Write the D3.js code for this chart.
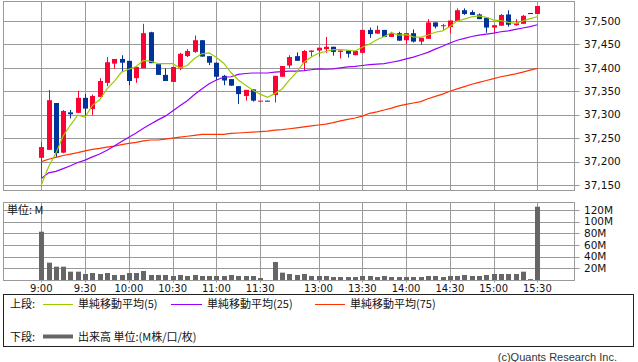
<!DOCTYPE html>
<html><head><meta charset="utf-8">
<script src="https://cdn.jsdelivr.net/npm/d3@7/dist/d3.min.js"></script>
<style>body{margin:0;background:#fff}svg{display:block}</style>
</head><body>
<svg id="c" width="638" height="362"></svg>
<script>
// ---- categories (5-minute bars) ----
const times = [];
(function(){
  const f = m => Math.floor(m/60) + ":" + String(m%60).padStart(2,"0");
  for (let m = 540; m <= 690; m += 5) times.push(f(m));
  times.push("12:25");
  for (let m = 750; m <= 930; m += 5) times.push(f(m));
})();

const opens  = [37208,37225,37325,37219,37305,37304,37336,37312,37338,37368,37409,37419,37415,37378,37399,37476,37408,37385,37370,37399,37425,37434,37459,37425,37411,37383,37376,37361,37340,37354,37329,37330,37342,37381,37405,37425,37411,37434,37437,37440,37445,37434,37437,37427,37432,37481,37473,37481,37466,37474,37459,37474,37456,37462,37497,37489,37487,37500,37523,37519,37514,37507,37486,37490,37514,37491,37494,37517,37515];
const highs  = [37242,37353,37325,37310,37310,37351,37344,37343,37378,37423,37419,37427,37415,37402,37494,37477,37408,37399,37402,37432,37440,37469,37459,37425,37411,37385,37376,37361,37353,37354,37330,37330,37383,37404,37427,37433,37438,37437,37443,37466,37445,37437,37437,37436,37481,37486,37490,37481,37477,37477,37474,37482,37464,37504,37497,37494,37501,37527,37527,37523,37516,37507,37491,37515,37523,37504,37513,37517,37532];
const lows   = [37165,37225,37210,37218,37292,37304,37294,37299,37338,37361,37398,37392,37363,37368,37399,37410,37385,37372,37370,37395,37423,37432,37424,37406,37374,37363,37362,37323,37330,37328,37329,37329,37326,37381,37400,37415,37395,37424,37424,37432,37426,37420,37422,37427,37431,37464,37473,37466,37466,37458,37450,37454,37449,37462,37484,37481,37474,37500,37513,37513,37504,37475,37474,37490,37488,37490,37494,37516,37515];
const closes = [37231,37331,37218,37308,37301,37336,37313,37340,37372,37412,37419,37411,37372,37402,37474,37410,37385,37372,37402,37430,37436,37459,37424,37411,37381,37373,37362,37344,37353,37330,37330,37329,37383,37404,37423,37415,37436,37437,37443,37445,37434,37437,37430,37436,37481,37472,37481,37466,37474,37458,37474,37456,37464,37497,37488,37491,37501,37523,37515,37513,37504,37486,37491,37513,37492,37495,37511,37516,37532];

const ma5  = [37150,37189,37218,37255,37278,37299,37295,37320,37332,37355,37371,37391,37397,37403,37416,37414,37409,37409,37409,37400,37405,37420,37430,37432,37422,37410,37390,37374,37363,37352,37344,37337,37345,37355,37374,37391,37412,37423,37431,37435,37439,37439,37438,37436,37444,37451,37460,37467,37475,37470,37471,37466,37465,37470,37476,37479,37488,37500,37504,37509,37511,37508,37502,37501,37497,37495,37500,37505,37509];
const ma25 = [37164,37176,37179,37185,37191,37198,37203,37210,37216,37224,37233,37243,37252,37261,37271,37280,37289,37297,37308,37319,37330,37343,37355,37366,37374,37380,37381,37386,37388,37389,37389,37389,37391,37392,37393,37393,37394,37396,37398,37397,37398,37400,37402,37403,37405,37407,37408,37409,37412,37415,37419,37423,37428,37433,37440,37446,37453,37459,37463,37467,37470,37472,37474,37477,37479,37482,37485,37488,37492];
const ma75 = [37200,37205,37209,37213,37216,37219,37223,37226,37228,37231,37233,37236,37239,37241,37244,37246,37246,37248,37250,37252,37254,37256,37258,37258,37258,37258,37260,37261,37262,37263,37264,37265,37267,37268,37270,37272,37274,37276,37278,37280,37283,37287,37290,37293,37297,37303,37306,37310,37314,37319,37322,37325,37328,37334,37339,37344,37350,37355,37360,37365,37369,37373,37377,37381,37384,37387,37391,37395,37399];

const volumes = [82.8,29.7,22.9,22.9,14.3,14.3,10.3,12.0,10.3,12.0,8.6,8.6,12.0,12.0,15.4,8.6,8.6,8.6,6.9,8.6,6.9,8.6,6.9,6.9,6.9,6.9,8.6,6.9,6.9,6.9,3.4,0,30.9,12.6,10.3,8.6,10.3,6.9,6.9,6.9,5.1,5.1,5.1,5.1,6.9,6.9,5.1,6.9,5.1,5.1,5.1,5.1,5.1,6.9,6.9,5.1,6.9,6.9,8.6,6.9,6.9,8.6,10.3,10.3,10.3,10.3,14.3,1.5,125.7];

const timeTicks  = ["9:00","9:30","10:00","10:30","11:00","11:30","13:00","13:30","14:00","14:30","15:00","15:30"];
const priceTicks = [37150,37200,37250,37300,37350,37400,37450,37500];
const volTicks   = [20,40,60,80,100,120];

// ---- layout ----
const L = 3.5, R = 574.5;
const P = {top: 1.5, bottom: 190.5};
const V = {top: 202.5, bottom: 280.5};
const svg = d3.select("#c");
const gridC = "#9a9a9a";
const font = "'DejaVu Sans', Verdana, sans-serif";
const jfont = "'Noto Sans CJK JP', 'DejaVu Sans', sans-serif";

const x = d3.scalePoint().domain(times).range([41.3, 537.4]);
const y = d3.scaleLinear().domain([37150, 37500]).range([185, 21]);
const yv = d3.scaleLinear().domain([0, 120]).range([280, 210]);
const cx = i => Math.round(x(times[i]));
const crisp = v => Math.round(v) + 0.5;

// price grid
const gp = svg.append("g");
gp.selectAll("line.h").data(priceTicks).join("line")
  .attr("x1", L).attr("x2", R + 5).attr("y1", d => crisp(y(d))).attr("y2", d => crisp(y(d)))
  .attr("stroke", gridC).attr("stroke-width", 1);
gp.selectAll("line.v").data(timeTicks).join("line")
  .attr("x1", d => crisp(x(d))).attr("x2", d => crisp(x(d)))
  .attr("y1", P.top).attr("y2", P.bottom)
  .attr("stroke", gridC).attr("stroke-width", 1);
gp.append("rect").attr("x", L).attr("y", P.top).attr("width", R - L).attr("height", P.bottom - P.top)
  .attr("fill", "none").attr("stroke", gridC);
gp.selectAll("text").data(priceTicks).join("text")
  .attr("x", 584).attr("y", d => y(d)).attr("dy", "0.36em")
  .attr("font-family", font).attr("font-size", "10.5px").attr("fill", "#111")
  .text(d => d3.format(",")(d));

// volume grid
const gv = svg.append("g");
gv.selectAll("line.h").data(volTicks).join("line")
  .attr("x1", L).attr("x2", R + 5).attr("y1", d => crisp(yv(d))).attr("y2", d => crisp(yv(d)))
  .attr("stroke", gridC);
gv.selectAll("line.v").data(timeTicks).join("line")
  .attr("x1", d => crisp(x(d))).attr("x2", d => crisp(x(d)))
  .attr("y1", V.top).attr("y2", V.bottom + 2)
  .attr("stroke", gridC);
gv.append("rect").attr("x", L).attr("y", V.top).attr("width", R - L).attr("height", V.bottom - V.top)
  .attr("fill", "none").attr("stroke", gridC);
gv.selectAll("text.t").data(volTicks).join("text")
  .attr("x", 584).attr("y", d => yv(d)).attr("dy", "0.36em")
  .attr("font-family", font).attr("font-size", "10.5px").attr("fill", "#111")
  .text(d => d + "M");
gv.selectAll("text.x").data(timeTicks).join("text")
  .attr("x", d => x(d)).attr("y", 291.5).attr("text-anchor", "middle")
  .attr("font-family", font).attr("font-size", "10px").attr("fill", "#111")
  .text(d => d);
gv.append("text").attr("x", 7).attr("y", 213.5)
  .attr("font-family", jfont).attr("font-size", "11px").attr("fill", "#111").text("単位: M");

// volume bars
gv.append("g").selectAll("rect").data(volumes).join("rect")
  .attr("x", (d, i) => cx(i) - 2).attr("width", 5)
  .attr("y", d => yv(d)).attr("height", d => yv(0) - yv(d))
  .attr("fill", "#666");

// candles
const up = "#ff0033", dn = "#003399";
const gc = svg.append("g");
times.forEach((t, i) => {
  const col = closes[i] >= opens[i] ? up : dn;
  const xc = cx(i);
  gc.append("line").attr("x1", xc + 0.5).attr("x2", xc + 0.5)
    .attr("y1", y(highs[i])).attr("y2", y(lows[i])).attr("stroke", col).attr("stroke-width", 1);
  const top = y(Math.max(opens[i], closes[i])), bot = y(Math.min(opens[i], closes[i]));
  gc.append("rect").attr("x", xc - 2).attr("width", 5)
    .attr("y", top).attr("height", Math.max(1, bot - top)).attr("fill", col);
});

// moving averages
const line = d3.line().x((d, i) => x(times[i])).y(d => y(d));
[[ma75, "#ff3300"], [ma25, "#9900ff"], [ma5, "#99cc00"]].forEach(([arr, c]) => {
  svg.append("path").datum(arr).attr("d", line).attr("fill", "none")
    .attr("stroke", c).attr("stroke-width", 1.2);
});

// legend
const lg = svg.append("g");
lg.append("rect").attr("x", 3.5).attr("y", 294.5).attr("width", 630).attr("height", 52)
  .attr("fill", "#fff").attr("stroke", "#222");
const legItems = [
  {x1: 43, x2: 73, tx: 78, label: "単純移動平均(5)", c: "#99cc00"},
  {x1: 171, x2: 202, tx: 207, label: "単純移動平均(25)", c: "#9900ff"},
  {x1: 315, x2: 345, tx: 350, label: "単純移動平均(75)", c: "#ff3300"}
];
lg.append("text").attr("x", 10).attr("y", 308).attr("font-family", jfont).attr("font-size", "11px").attr("fill", "#111").text("上段:");
legItems.forEach(d => {
  lg.append("line").attr("x1", d.x1).attr("x2", d.x2).attr("y1", 304.5).attr("y2", 304.5).attr("stroke", d.c).attr("stroke-width", 1);
  lg.append("text").attr("x", d.tx).attr("y", 308).attr("font-family", jfont).attr("font-size", "11px").attr("fill", "#111").text(d.label);
});
lg.append("text").attr("x", 10).attr("y", 340.5).attr("font-family", jfont).attr("font-size", "11px").attr("fill", "#111").text("下段:");
lg.append("line").attr("x1", 43).attr("x2", 73).attr("y1", 336.5).attr("y2", 336.5).attr("stroke", "#666").attr("stroke-width", 4);
lg.append("text").attr("x", 78).attr("y", 340.5).attr("font-family", jfont).attr("font-size", "11px").attr("fill", "#111").text("出来高 単位:(M株/口/枚)");

svg.append("text").attr("x", 617).attr("y", 360.5).attr("text-anchor", "end")
  .attr("font-family", "'Liberation Sans', Arial, sans-serif").attr("font-size", "11px").attr("fill", "#333")
  .text("(c)Quants Research Inc.");
</script>
</body></html>
